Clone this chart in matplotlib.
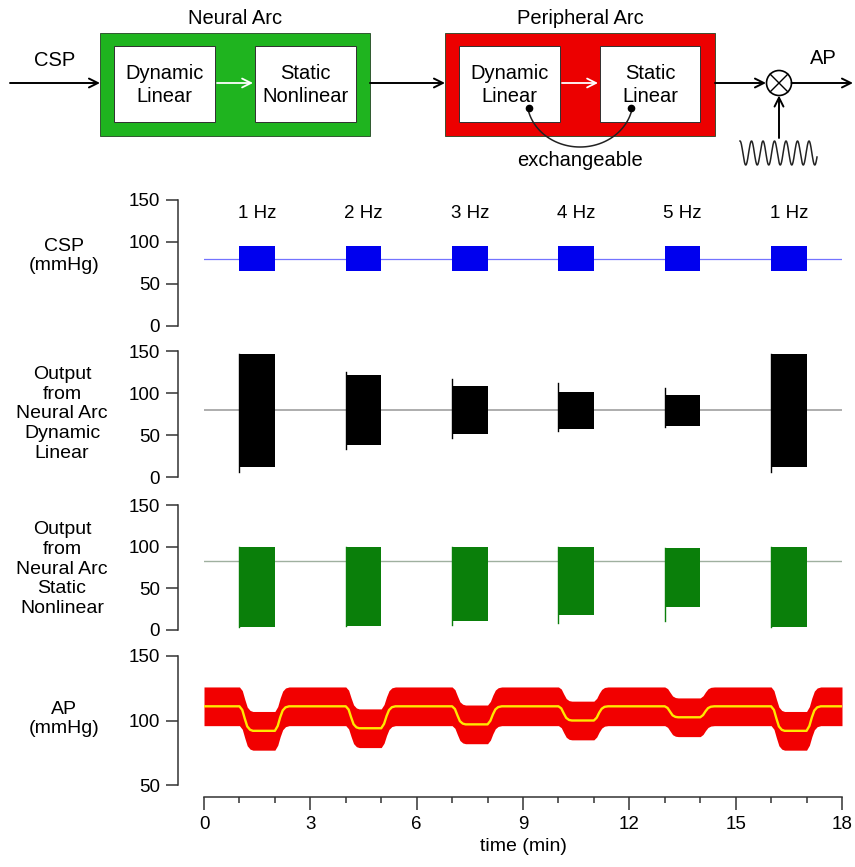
import numpy as np
import matplotlib
matplotlib.use("Agg")
import matplotlib.pyplot as plt
from matplotlib import patches

plt.rcParams['font.family'] = ['Liberation Sans', 'DejaVu Sans']

# ---------------- data ----------------
seg_start = [1, 4, 7, 10, 13, 16]          # onset of each stimulation block (min)
seg_freq = ["1 Hz", "2 Hz", "3 Hz", "4 Hz", "5 Hz", "1 Hz"]

csp_base = 80
csp_hi = [95, 95, 95, 95, 95, 95]
csp_lo = [65, 65, 65, 65, 65, 65]

dl_base = 80
dl_hi = [146, 122, 108, 101, 98, 146]
dl_lo = [12, 38, 51, 57, 61, 12]
dl_spike_hi = [146, 125, 117, 112, 106, 146]
dl_spike_lo = [6, 33, 47, 55, 59, 6]

sn_base = 83
sn_hi = [100, 100, 100, 100, 99, 100]
sn_lo = [4, 5, 11, 18, 28, 4]
sn_spike_lo = [4, 5, 6, 8, 11, 4]

ap_t = [0,
        1.0, 1.08, 1.15, 1.22, 1.3, 1.38, 2.0, 2.08, 2.15, 2.22, 2.3, 2.4,
        4.0, 4.08, 4.15, 4.22, 4.3, 4.38, 5.0, 5.08, 5.15, 5.22, 5.3, 5.4,
        7.0, 7.08, 7.15, 7.22, 7.3, 7.38, 8.0, 8.08, 8.15, 8.22, 8.3, 8.4,
        10.0, 10.08, 10.15, 10.22, 10.3, 10.38, 11.0, 11.08, 11.15, 11.22, 11.3, 11.4,
        13.0, 13.08, 13.15, 13.22, 13.3, 13.38, 14.0, 14.08, 14.15, 14.22, 14.3, 14.4,
        16.0, 16.08, 16.15, 16.22, 16.3, 16.38, 17.0, 17.08, 17.15, 17.22, 17.3, 17.4,
        18]
ap_mean = [111,
           111, 108.2, 101.5, 95.4, 92.8, 92, 92, 95.8, 102.5, 107.8, 110.2, 111,
           111, 108.5, 102.5, 97.1, 94.7, 94, 94, 97.4, 103.4, 108.1, 110.3, 111,
           111, 108.9, 104.0, 99.5, 97.6, 97, 97, 99.8, 104.7, 108.6, 110.4, 111,
           111, 109.4, 105.5, 102.0, 100.4, 100, 100, 102.2, 106.1, 109.1, 110.6, 111,
           111, 109.7, 106.8, 104.0, 102.8, 102.5, 102.5, 104.2, 107.2, 109.6, 110.7, 111,
           111, 108.2, 101.5, 95.4, 92.8, 92, 92, 95.8, 102.5, 107.8, 110.2, 111,
           111]
ap_swing = 15  # amplitude of the superimposed pulsatile component

# ---------------- figure ----------------
W, H = 855, 867
fig = plt.figure(figsize=(W / 100, H / 100), dpi=100)

def fx(px):
    return px / W

def fy(py):
    return 1 - py / H

TICK_FS = 13.5
LABEL_FS = 14
DIAG_FS = 14.5

x_left, x_right = 204, 842
rows = {"csp": (200, 326), "dl": (351, 477), "sn": (505, 630), "ap": (656, 785)}

def make_axes(key, ylim):
    top, bot = rows[key]
    ax = fig.add_axes([fx(x_left), fy(bot), (x_right - x_left) / W, (bot - top) / H])
    ax.set_xlim(0, 18)
    ax.set_ylim(*ylim)
    ax.patch.set_alpha(0)
    for s in ("top", "right"):
        ax.spines[s].set_visible(False)
    ax.spines["left"].set_position(("outward", 26 * 0.72))
    ax.spines["left"].set_linewidth(1.1)
    ax.spines["left"].set_color("#333333")
    ax.tick_params(axis="y", direction="out", length=9, width=1.1, pad=4,
                   labelsize=TICK_FS, colors="#333333", labelcolor="black")
    return ax

label_font = dict(fontsize=LABEL_FS, ha="center", va="center", linespacing=1.22)

# CSP
ax1 = make_axes("csp", (0, 150))
ax1.set_yticks([0, 50, 100, 150])
ax1.spines["bottom"].set_visible(False)
ax1.set_xticks([])
ax1.plot([0, 18], [csp_base, csp_base], color="#7373ff", lw=0.9, zorder=1)
for s, hi, lo, lab in zip(seg_start, csp_hi, csp_lo, seg_freq):
    ax1.fill_between([s, s + 1], [lo, lo], [hi, hi], color="#0000ee", lw=0, zorder=2)
    ax1.text(s + 0.5, 134, lab, fontsize=TICK_FS, ha="center", va="center")
fig.text(fx(64), fy(256), "CSP\n(mmHg)", **label_font)

# Neural arc, dynamic linear output
ax2 = make_axes("dl", (0, 150))
ax2.set_yticks([0, 50, 100, 150])
ax2.spines["bottom"].set_visible(False)
ax2.set_xticks([])
ax2.plot([0, 18], [dl_base, dl_base], color="#a0a0a0", lw=1.2, zorder=1)
for s, hi, lo, shi, slo in zip(seg_start, dl_hi, dl_lo, dl_spike_hi, dl_spike_lo):
    ax2.fill_between([s, s + 1], [lo, lo], [hi, hi], color="black", lw=0, zorder=2)
    ax2.plot([s, s], [slo, shi], color="black", lw=1.0, zorder=3)
fig.text(fx(62), fy(414), "Output\nfrom\nNeural Arc\nDynamic\nLinear", **label_font)

# Neural arc, static nonlinear output
ax3 = make_axes("sn", (0, 150))
ax3.set_yticks([0, 50, 100, 150])
ax3.spines["bottom"].set_visible(False)
ax3.set_xticks([])
ax3.plot([0, 18], [sn_base, sn_base], color="#9fb09f", lw=1.0, zorder=1)
for s, hi, lo, slo in zip(seg_start, sn_hi, sn_lo, sn_spike_lo):
    ax3.fill_between([s, s + 1], [lo, lo], [hi, hi], color="#0a7f0a", lw=0, zorder=2)
    ax3.plot([s, s], [slo, hi], color="#0a7f0a", lw=1.0, zorder=3)
fig.text(fx(62), fy(569), "Output\nfrom\nNeural Arc\nStatic\nNonlinear", **label_font)

# Arterial pressure
ax4 = make_axes("ap", (50, 150))
ax4.set_yticks([50, 100, 150])
t = np.array(ap_t)
m = np.array(ap_mean)
ax4.fill_between(t, m - ap_swing, m + ap_swing, color="#f20000", lw=0, zorder=2)
ax4.plot(t, m, color="#ffe800", lw=1.7, zorder=3, solid_joinstyle="round")
ax4.spines["bottom"].set_position(("outward", 12 * 0.72))
ax4.spines["bottom"].set_linewidth(1.1)
ax4.spines["bottom"].set_color("#333333")
ax4.set_xticks(range(0, 19, 3))
ax4.set_xticks([v for v in range(0, 19) if v % 3], minor=True)
ax4.tick_params(axis="x", which="major", direction="out", length=9, width=1.1,
                pad=5, labelsize=TICK_FS, colors="#333333", labelcolor="black")
ax4.tick_params(axis="x", which="minor", direction="out", length=4.5, width=1.1,
                colors="#333333")
ax4.set_xlabel("time (min)", fontsize=LABEL_FS, labelpad=3)
fig.text(fx(64), fy(719), "AP\n(mmHg)", **label_font)

# ---------------- block diagram ----------------
dg = fig.add_axes([0, 0, 1, 1], zorder=5)
dg.set_xlim(0, W)
dg.set_ylim(H, 0)
dg.axis("off")
dg.patch.set_alpha(0)

green, red = "#1fb41f", "#ec0000"
ymid = 83

def arrow(x0, y0, x1, y1, color="black", lw=1.4):
    dg.annotate("", xy=(x1, y1), xytext=(x0, y0),
                arrowprops=dict(arrowstyle="->", lw=lw, color=color,
                                mutation_scale=16, shrinkA=0, shrinkB=0))

def block(x0, x1, color, title, inner):
    dg.add_patch(patches.Rectangle((x0, 33), x1 - x0, 103, facecolor=color,
                                   edgecolor="#224422", lw=0.6))
    dg.text((x0 + x1) / 2, 19, title, fontsize=DIAG_FS, ha="center", va="center")
    for (bx0, bx1), txt in inner:
        dg.add_patch(patches.Rectangle((bx0, 46), bx1 - bx0, 76, facecolor="white",
                                       edgecolor="#303030", lw=0.7))
        dg.text((bx0 + bx1) / 2, 85, txt, fontsize=DIAG_FS, ha="center", va="center",
                linespacing=1.25)
    (a0, a1), (b0, b1) = inner[0][0], inner[1][0]
    arrow(a1 + 2, ymid, b0 - 2, ymid, color="white", lw=1.3)

dg.text(55, 60, "CSP", fontsize=DIAG_FS, ha="center", va="center")
arrow(10, ymid, 100, ymid)
block(100, 370, green, "Neural Arc",
      [((114, 215), "Dynamic\nLinear"), ((255, 356), "Static\nNonlinear")])
arrow(370, ymid, 445, ymid)
block(445, 715, red, "Peripheral Arc",
      [((459, 560), "Dynamic\nLinear"), ((600, 700), "Static\nLinear")])

# "exchangeable" link between the peripheral blocks
th = np.linspace(np.pi * 0.93, np.pi * 0.07, 100)
dg.plot(580 + 53 * np.cos(th), 100 + 47 * np.sin(th), color="#222222", lw=1.1)
dg.plot([529, 631], [108, 108], "o", color="black", ms=4.5)
dg.text(580, 161, "exchangeable", fontsize=DIAG_FS, ha="center", va="center")

# summing junction and output
arrow(715, ymid, 766, ymid)
cx, cr = 779, 12.5
dg.add_patch(patches.Circle((cx, ymid), cr, fill=False, lw=1.2, edgecolor="black"))
d = cr * 0.707
dg.plot([cx - d, cx + d], [ymid - d, ymid + d], color="black", lw=1.0)
dg.plot([cx - d, cx + d], [ymid + d, ymid - d], color="black", lw=1.0)
arrow(cx + cr, ymid, 853, ymid)
dg.text(823, 59, "AP", fontsize=DIAG_FS, ha="center", va="center")
arrow(cx, 138, cx, ymid + cr)

# oscillator glyph
gx = np.linspace(740, 817, 600)
dg.plot(gx, 153 - 12 * np.sin(2 * np.pi * (gx - 740) / 11.5 + np.pi / 2),
        color="#222222", lw=1.1)

fig.savefig("out.png", dpi=100)
